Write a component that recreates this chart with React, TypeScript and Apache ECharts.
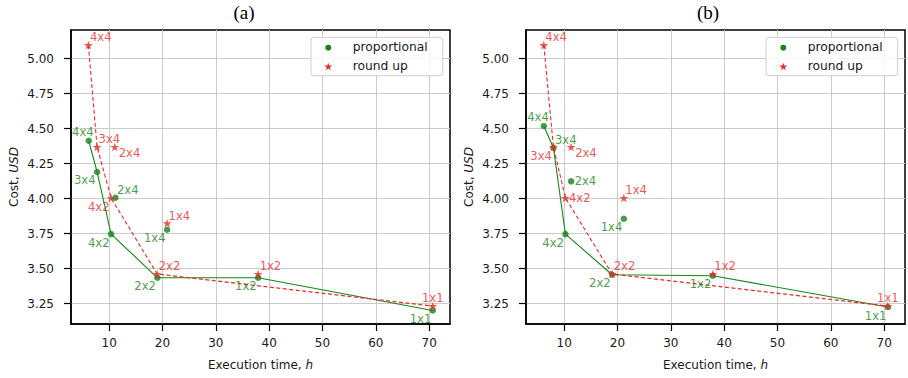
import React, { useEffect, useRef } from "react";
import * as echarts from "echarts";

// configuration labels (same order in every array below)
const names = ["4x4", "3x4", "2x4", "4x2", "1x4", "2x2", "1x2", "1x1"];

// panel (a)
const propTimeA = [6.17, 7.74, 11.18, 10.37, 20.87, 19.05, 37.93, 70.67];
const propCostA = [4.413, 4.19, 4.006, 3.746, 3.777, 3.434, 3.434, 3.201];
const roundTimeA = [6.11, 7.74, 11.05, 10.37, 20.87, 19.0, 37.93, 70.67];
const roundCostA = [5.096, 4.368, 4.368, 4.004, 3.823, 3.461, 3.461, 3.232];

// panel (b)
const propTimeB = [6.19, 7.99, 11.31, 10.24, 21.19, 19.0, 37.88, 70.69];
const propCostB = [4.518, 4.363, 4.123, 3.746, 3.856, 3.456, 3.449, 3.225];
const roundTimeB = [6.19, 7.99, 11.31, 10.24, 21.19, 19.0, 37.88, 70.69];
const roundCostB = [5.096, 4.368, 4.368, 4.004, 4.004, 3.461, 3.461, 3.232];

// Pareto paths (by configuration name)
const propPath = ["4x4", "3x4", "4x2", "2x2", "1x2", "1x1"];
const roundPath = ["4x4", "3x4", "4x2", "2x2", "1x1"];

// tick values
const xTicks = [10, 20, 30, 40, 50, 60, 70];
const yTicks = [3.25, 3.5, 3.75, 4.0, 4.25, 4.5, 4.75, 5.0];

const titles = ["(a)", "(b)"];
const legendNames = ["proportional", "round up"];

// label placement codes per point
const propPlaceA = ["al", "lb", "ra", "lb", "lb", "lb", "lb", "lb"];
const roundPlaceA = ["ra", "ra", "rb", "lb", "ra", "ra", "ra", "a"];
const propPlaceB = ["al", "ra", "r", "lb", "lb", "lb", "lb", "lb"];
const roundPlaceB = ["ra", "lb", "rb", "r", "ra", "ra", "ra", "a"];

const GREEN = "#178617";
const RED = "#ea2a2a";
const FONT = "DejaVu Sans";
const TXT = "#1a1a1a";
const STAR =
  "path://M0,-10 L2.245,-3.09 L9.511,-3.09 L3.633,1.18 L5.878,8.09 L0,3.82 L-5.878,8.09 L-3.633,1.18 L-9.511,-3.09 L-2.245,-3.09 Z";

const placeStyle: Record<string, any> = {
  ra: { align: "left", offset: [1.5, -7.8] },
  rb: { align: "left", offset: [4, 5.5] },
  r: { align: "left", offset: [3.5, 0] },
  lb: { align: "right", offset: [-1.5, 8.5] },
  al: { align: "right", offset: [5, -8.7] },
  a: { align: "center", offset: [0, -8] },
};

const GRID_LEFT = [71, 526];
const GRID_TOP = 30;
const GRID_W = 379;
const GRID_H = 294;

function starPoints(cx: number, cy: number, r: number) {
  const pts: number[][] = [];
  for (let k = 0; k < 10; k++) {
    const rr = k % 2 === 0 ? r : r * 0.382;
    const a = -Math.PI / 2 + (k * Math.PI) / 5;
    pts.push([cx + rr * Math.cos(a), cy + rr * Math.sin(a)]);
  }
  return pts;
}

function panelSeries(
  gi: number,
  pT: number[],
  pC: number[],
  rT: number[],
  rC: number[],
  pPlace: string[],
  rPlace: string[]
) {
  const pts = (t: number[], c: number[], place: string[]) =>
    names.map((n, i) => ({
      name: n,
      value: [t[i], c[i]],
      label: { ...placeStyle[place[i]] },
    }));
  const path = (p: string[], t: number[], c: number[]) =>
    p.map((n) => {
      const i = names.indexOf(n);
      return [t[i], c[i]];
    });
  const labelBase = (color: string) => ({
    show: true,
    position: ["50%", "50%"],
    verticalAlign: "middle",
    formatter: "{b}",
    color,
    fontSize: 11.6,
    fontFamily: FONT,
  });
  return [
    {
      type: "line",
      xAxisIndex: gi,
      yAxisIndex: gi,
      data: path(propPath, pT, pC),
      symbol: "none",
      silent: true,
      lineStyle: { color: GREEN, width: 1.1 },
      z: 2,
    },
    {
      type: "line",
      xAxisIndex: gi,
      yAxisIndex: gi,
      data: path(roundPath, rT, rC),
      symbol: "none",
      silent: true,
      lineStyle: { color: RED, width: 1.1, type: [4, 2.5] },
      z: 3,
    },
    {
      type: "scatter",
      name: legendNames[0],
      xAxisIndex: gi,
      yAxisIndex: gi,
      data: pts(pT, pC, pPlace),
      symbol: "circle",
      symbolSize: 6.5,
      itemStyle: { color: GREEN },
      label: labelBase(GREEN),
      z: 4,
    },
    {
      type: "scatter",
      name: legendNames[1],
      xAxisIndex: gi,
      yAxisIndex: gi,
      data: pts(rT, rC, rPlace),
      symbol: STAR,
      symbolSize: 9,
      symbolKeepAspect: true,
      itemStyle: { color: RED },
      label: labelBase(RED),
      z: 5,
    },
  ];
}

function xAxis(gi: number) {
  return {
    type: "value",
    gridIndex: gi,
    min: 2.85,
    max: 73.9,
    name: "Execution time, {i|h}",
    nameLocation: "middle",
    nameGap: 35,
    nameMoveOverlap: false,
    nameTextStyle: {
      color: TXT,
      fontSize: 12,
      fontFamily: FONT,
      rich: { i: { fontStyle: "italic", fontSize: 12, fontFamily: FONT, color: TXT } },
    },
    axisLine: { show: true, onZero: false, lineStyle: { color: "#000", width: 1.5 } },
    axisTick: { show: true, inside: false, length: 7, customValues: xTicks, lineStyle: { color: "#000", width: 1.2 } },
    axisLabel: { customValues: xTicks, margin: 13, color: TXT, fontSize: 12, fontFamily: FONT },
    splitLine: { show: true, lineStyle: { color: "#cbcbcb", width: 1 } },
  };
}

function yAxis(gi: number) {
  return {
    type: "value",
    gridIndex: gi,
    min: 3.104,
    max: 5.204,
    name: "Cost, {i|USD}",
    nameLocation: "middle",
    nameGap: 51,
    nameMoveOverlap: false,
    nameTextStyle: {
      color: TXT,
      fontSize: 12,
      fontFamily: FONT,
      rich: { i: { fontStyle: "italic", fontSize: 12, fontFamily: FONT, color: TXT } },
    },
    axisLine: { show: true, onZero: false, lineStyle: { color: "#000", width: 1.5 } },
    axisTick: { show: true, inside: false, length: 7, customValues: yTicks, lineStyle: { color: "#000", width: 1.2 } },
    axisLabel: {
      customValues: yTicks,
      margin: 17,
      color: TXT,
      fontSize: 12,
      fontFamily: FONT,
      formatter: (v: number) => v.toFixed(2),
    },
    splitLine: { show: true, lineStyle: { color: "#cbcbcb", width: 1 } },
  };
}

function legendGraphic(ox: number) {
  return [
    {
      type: "rect",
      shape: { x: 311 + ox, y: 37.3, width: 131.7, height: 38.4, r: 3 },
      style: { fill: "rgba(255,255,255,0.85)", stroke: "#cfcfcf", lineWidth: 1 },
      z: 50,
    },
    { type: "circle", shape: { cx: 328.3 + ox, cy: 47.7, r: 3 }, style: { fill: GREEN }, z: 51 },
    { type: "polygon", shape: { points: starPoints(328.3 + ox, 66.9, 4.2) }, style: { fill: RED }, z: 51 },
    {
      type: "text",
      x: 352.7 + ox,
      y: 47.3,
      style: { text: legendNames[0], fill: TXT, font: `12.3px "${FONT}"`, verticalAlign: "middle", align: "left" },
      z: 51,
    },
    {
      type: "text",
      x: 352.7 + ox,
      y: 66,
      style: { text: legendNames[1], fill: TXT, font: `12.3px "${FONT}"`, verticalAlign: "middle", align: "left" },
      z: 51,
    },
  ];
}

export default function App() {
  const ref = useRef<HTMLDivElement>(null);
  useEffect(() => {
    if (!ref.current) return;
    const chart = echarts.init(ref.current, undefined, { renderer: "svg" });
    const option: any = {
      animation: false,
      backgroundColor: "#ffffff",
      grid: GRID_LEFT.map((l) => ({
        left: l,
        top: GRID_TOP,
        width: GRID_W,
        height: GRID_H,
        show: true,
        borderColor: "#000",
        borderWidth: 1.5,
        backgroundColor: "transparent",
        containLabel: false,
        outerBoundsMode: "none",
      })),
      xAxis: [xAxis(0), xAxis(1)],
      yAxis: [yAxis(0), yAxis(1)],
      series: [
        ...panelSeries(0, propTimeA, propCostA, roundTimeA, roundCostA, propPlaceA, roundPlaceA),
        ...panelSeries(1, propTimeB, propCostB, roundTimeB, roundCostB, propPlaceB, roundPlaceB),
      ],
      graphic: [
        {
          type: "text",
          x: 244,
          y: 12,
          style: { text: titles[0], fill: "#000", font: '19px "Liberation Serif"', align: "center", verticalAlign: "middle" },
        },
        {
          type: "text",
          x: 708,
          y: 12,
          style: { text: titles[1], fill: "#000", font: '19px "Liberation Serif"', align: "center", verticalAlign: "middle" },
        },
        ...legendGraphic(0),
        ...legendGraphic(455),
      ],
    };
    chart.setOption(option);
    return () => chart.dispose();
  }, []);
  return (
    <div
      ref={ref}
      style={{ position: "fixed", left: 0, top: 0, width: 908, height: 378, background: "#fff" }}
    />
  );
}
